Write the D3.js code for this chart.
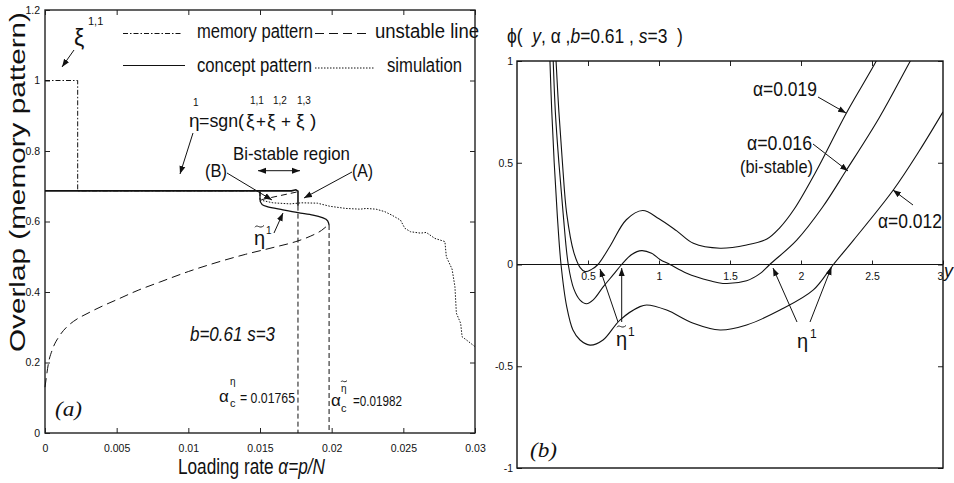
<!DOCTYPE html>
<html><head><meta charset="utf-8">
<script src="https://cdn.jsdelivr.net/npm/d3@7"></script>
<style>
body{margin:0;background:#fff}
svg{display:block}
text{font-family:"Liberation Sans Narrow","Arial Narrow","Liberation Sans",Arial,sans-serif;fill:#111;white-space:pre}
.serif{font-family:"Liberation Serif","Times New Roman",serif}
</style></head><body>
<svg id="chart" width="954" height="483"></svg>
<script>
// ---------- data: panel (a) ----------
const leftXTicks = [0, 0.005, 0.01, 0.015, 0.02, 0.025, 0.03];
const leftXTickLabels = ["0", "0.005", "0.01", "0.015", "0.02", "0.025", "0.03"];
const leftYTicks = [0, 0.2, 0.4, 0.6, 0.8, 1, 1.2];
const leftYTickLabels = ["0", "0.2", "0.4", "0.6", "0.8", "1", "1.2"];

const memoryPattern = [[0, 1.0], [0.00228, 1.0], [0.00228, 0.687], [0.0150, 0.687], [0.0150, 0.656]];
const conceptUpper = [[0, 0.687], [0.0172, 0.687], [0.0175, 0.690], [0.01765, 0.686], [0.01765, 0.645]];
const conceptLower = [[0.0150, 0.684], [0.0150, 0.662], [0.01515, 0.648], [0.0155, 0.642], [0.0166, 0.633],
  [0.01765, 0.625], [0.0187, 0.618], [0.0194, 0.610], [0.01972, 0.602], [0.01982, 0.590]];
const unstableUpper = [[0.0151, 0.662], [0.0176, 0.684]];
const unstableLower = [[0, 0.13], [0.0001, 0.16], [0.00025, 0.20], [0.0005, 0.235], [0.001, 0.275], [0.0015, 0.30],
  [0.002, 0.317], [0.003, 0.34], [0.004, 0.36], [0.005, 0.378], [0.0065, 0.405], [0.008, 0.428], [0.01, 0.458],
  [0.012, 0.484], [0.014, 0.507], [0.016, 0.527], [0.0175, 0.543], [0.0185, 0.558], [0.0193, 0.575], [0.0198, 0.592]];
const criticalEta = [[0.01765, 0.645], [0.01765, 0]];
const criticalEtaTilde = [[0.01982, 0.590], [0.01982, 0]];
const simulation = [[0.0150, 0.661], [0.0159, 0.653], [0.0171, 0.650], [0.0179, 0.653], [0.0190, 0.652], [0.0199, 0.643],
  [0.0210, 0.637], [0.0220, 0.635], [0.0224, 0.637], [0.0231, 0.635], [0.0237, 0.628], [0.0242, 0.618], [0.0248, 0.604],
  [0.0251, 0.581], [0.0255, 0.571], [0.0262, 0.567], [0.0266, 0.569], [0.0272, 0.552], [0.0279, 0.543], [0.0280, 0.500],
  [0.0284, 0.465], [0.0286, 0.415], [0.0287, 0.340], [0.0290, 0.311], [0.0291, 0.273], [0.0294, 0.264], [0.0300, 0.245]];

// ---------- data: panel (b) ----------
const rightXTicks = [0.5, 1, 1.5, 2, 2.5, 3];
const rightXTickLabels = ["0.5", "1", "1.5", "2", "2.5", "3"];
const rightYTicks = [-1, -0.5, 0, 0.5, 1];
const rightYTickLabels = ["-1", "-0.5", "0", "0.5", "1"];

const phiAlpha019 = [[0.262, 1.2], [0.275, 1.0], [0.295, 0.75], [0.32, 0.5], [0.35, 0.25], [0.40, 0.06], [0.445, -0.015],
  [0.48, -0.035], [0.525, -0.024], [0.57, 0.0], [0.655, 0.09], [0.77, 0.22], [0.885, 0.265], [1.0, 0.225], [1.125, 0.165],
  [1.242, 0.104], [1.43, 0.08], [1.617, 0.096], [1.76, 0.125], [1.85, 0.18], [1.95, 0.27], [2.1, 0.45], [2.32, 0.745],
  [2.53, 1.0], [2.6, 1.1]];
const phiAlpha016 = [[0.245, 1.2], [0.255, 1.0], [0.27, 0.75], [0.295, 0.5], [0.325, 0.25], [0.361, 0.0], [0.40, -0.12],
  [0.444, -0.175], [0.49, -0.193], [0.537, -0.174], [0.608, -0.109], [0.678, -0.05], [0.737, 0.0], [0.808, 0.049],
  [0.878, 0.068], [0.948, 0.055], [1.007, 0.025], [1.077, 0.0], [1.195, -0.043], [1.359, -0.08], [1.45, -0.093],
  [1.617, -0.08], [1.711, -0.045], [1.78, 0.0], [1.97, 0.12], [2.15, 0.28], [2.32, 0.464], [2.55, 0.72], [2.77, 1.0], [2.85, 1.1]];
const phiAlpha012 = [[0.224, 1.2], [0.232, 1.0], [0.245, 0.75], [0.262, 0.5], [0.283, 0.25], [0.31, 0.0], [0.35, -0.207],
  [0.394, -0.322], [0.444, -0.371], [0.514, -0.396], [0.606, -0.371], [0.725, -0.273], [0.866, -0.207], [0.913, -0.199],
  [1.054, -0.224], [1.242, -0.289], [1.43, -0.322], [1.617, -0.297], [1.852, -0.224], [2.087, -0.125], [2.228, 0.0],
  [2.37, 0.12], [2.65, 0.366], [2.83, 0.555], [3.0, 0.75]];

// ---------- drawing ----------
const svg = d3.select("#chart");
const defs = svg.append("defs");
defs.append("marker").attr("id", "ah").attr("markerUnits", "userSpaceOnUse")
  .attr("markerWidth", 9).attr("markerHeight", 7).attr("refX", 8).attr("refY", 3.5)
  .attr("orient", "auto-start-reverse")
  .append("path").attr("d", "M0,0.5 L8,3.5 L0,6.5 Z").attr("fill", "#111");

function arrow(x1, y1, x2, y2, both) {
  const l = svg.append("line").attr("x1", x1).attr("y1", y1).attr("x2", x2).attr("y2", y2)
    .attr("stroke", "#111").attr("stroke-width", 1).attr("marker-end", "url(#ah)");
  if (both) l.attr("marker-start", "url(#ah)");
}
function txt(x, y, s, size, opts = {}) {
  const t = svg.append("text").attr("x", x).attr("y", y).attr("font-size", size).text(s);
  if (opts.w) t.attr("textLength", opts.w).attr("lengthAdjust", "spacingAndGlyphs");
  if (opts.italic) t.attr("font-style", "italic");
  if (opts.cls) t.attr("class", opts.cls);
  if (opts.anchor) t.attr("text-anchor", opts.anchor);
  return t;
}
// multi-style text condensed horizontally to a target width (narrow face look)
function condensed(x, y, size, width, parts, rotate) {
  const g = svg.append("g");
  const t = g.append("text").attr("x", 0).attr("y", 0).attr("font-size", size);
  parts.forEach(p => {
    const s = t.append("tspan").text(p[0]);
    if (p[1]) s.attr("font-style", "italic");
  });
  const len = t.node().getComputedTextLength();
  const k = width / len;
  g.attr("transform", `translate(${x},${y})` + (rotate ? ` rotate(${rotate})` : "") + ` scale(${k},1)`);
}
// small tilde mark drawn as a path (over eta)
function tilde(x, y, w) {
  const h = w * 0.28;
  svg.append("path")
    .attr("d", `M${x},${y + h * 0.5} C${x + w * 0.25},${y - h} ${x + w * 0.5},${y + h * 1.5} ${x + w},${y - h * 0.2}`)
    .attr("fill", "none").attr("stroke", "#111").attr("stroke-width", 0.9);
}

// ===== Panel (a) =====
const xL = d3.scaleLinear().domain([0, 0.03]).range([45, 475]);
const yL = d3.scaleLinear().domain([0, 1.2]).range([433, 10]);

function styleAxis(g, fs) {
  g.select(".domain").remove();
  g.selectAll(".tick line").attr("stroke", "#222");
  g.selectAll(".tick text").attr("font-size", fs).attr("fill", "#111")
    .attr("font-family", '"Liberation Sans Narrow","Arial Narrow","Liberation Sans",Arial,sans-serif');
}
svg.append("g").attr("transform", "translate(0,433)")
  .call(d3.axisBottom(xL).tickValues(leftXTicks).tickFormat((d, i) => leftXTickLabels[i]).tickSizeInner(-5).tickSizeOuter(0).tickPadding(12))
  .call(g => styleAxis(g, 10.5));
svg.append("g").attr("transform", "translate(45,0)")
  .call(d3.axisLeft(yL).tickValues(leftYTicks).tickFormat((d, i) => leftYTickLabels[i]).tickSizeInner(-5).tickSizeOuter(0).tickPadding(5))
  .call(g => styleAxis(g, 10.5));
svg.append("g").attr("transform", "translate(0,10)")
  .call(d3.axisTop(xL).tickValues(leftXTicks).tickFormat("").tickSizeInner(-5).tickSizeOuter(0))
  .call(g => styleAxis(g, 10));
svg.append("g").attr("transform", "translate(475,0)")
  .call(d3.axisRight(yL).tickValues(leftYTicks).tickFormat("").tickSizeInner(-5).tickSizeOuter(0))
  .call(g => styleAxis(g, 10));
svg.append("rect").attr("x", xL(0)).attr("y", yL(1.2)).attr("width", xL(0.03) - xL(0)).attr("height", yL(0) - yL(1.2))
  .attr("fill", "none").attr("stroke", "#222").attr("stroke-width", 1.4);

const lineL = d3.line().x(d => xL(d[0])).y(d => yL(d[1]));
const smoothL = d3.line().x(d => xL(d[0])).y(d => yL(d[1])).curve(d3.curveMonotoneX);
const smoothLY = d3.line().x(d => xL(d[0])).y(d => yL(d[1])).curve(d3.curveMonotoneY);
function pathL(data, gen, dash, w) {
  svg.append("path").datum(data).attr("d", gen).attr("fill", "none").attr("stroke", "#111")
    .attr("stroke-width", w).attr("stroke-dasharray", dash);
}
pathL(unstableLower, smoothL, "9,5", 1);
pathL(unstableUpper, lineL, "6,4", 1);
pathL(criticalEta, lineL, "5,3", 1);
pathL(criticalEtaTilde, lineL, "5,3", 1);
pathL(simulation, lineL, "1.5,1.5", 1);
pathL(conceptUpper, lineL, null, 1.6);
pathL(conceptLower, smoothLY, null, 1.3);
pathL(memoryPattern, lineL, "5,2,1.5,2", 1);

// legend
function legLine(x1, x2, y, dash, w) {
  svg.append("line").attr("x1", x1).attr("x2", x2).attr("y1", y).attr("y2", y)
    .attr("stroke", "#111").attr("stroke-width", w).attr("stroke-dasharray", dash);
}
legLine(123, 182, 33.5, "5,2,1.5,2", 1);
txt(197, 38, "memory pattern", 19.5, { w: 116 });
legLine(315, 370, 33.5, "9,5", 1);
txt(375, 38, "unstable line", 19.5, { w: 104 });
legLine(123, 185, 65.5, null, 1.2);
txt(197, 72, "concept pattern", 19.5, { w: 115 });
legLine(315, 375, 68, "1.5,1.5", 1);
txt(387, 72, "simulation", 19.5, { w: 75 });

// xi^{1,1}
txt(74, 46, "ξ", 23);
txt(88, 25, "1,1", 11);
arrow(74, 50, 62, 67);

// eta formula
txt(189, 127, "η", 19);
txt(193, 106, "1", 10);
txt(199, 127, "=sgn(", 19, { w: 45 });
txt(246, 127, "ξ", 19);
txt(256, 127, "+", 17);
txt(267, 127, "ξ", 19);
txt(281, 127, "+", 17);
txt(296, 127, "ξ", 19);
txt(310, 127, ")", 19);
txt(250, 104, "1,1", 10);
txt(273, 104, "1,2", 10);
txt(297, 104, "1,3", 10);
arrow(193, 133, 180, 174);

// bi-stable annotations
txt(233, 160, "Bi-stable region", 19, { w: 117 });
arrow(258, 170.7, 300, 170.7, true);
txt(352, 177, "(A)", 19, { w: 21 });
txt(205, 177, "(B)", 19, { w: 22 });
arrow(227, 173, 272, 200);
arrow(352, 172, 304, 198);

// eta tilde
txt(254, 245, "η", 20);
tilde(255, 226, 9);
txt(266, 234, "1", 10);
arrow(274, 233, 283, 213);

txt(190, 341, "b=0.61 s=3", 20, { italic: true, w: 85 });

// alpha_c labels
txt(219, 402, "α", 17);
txt(230, 385, "η", 10);
txt(230, 407, "c", 11);
txt(240, 403, "= 0.01765", 14, { w: 55 });
txt(331, 406, "α", 17);
txt(341, 392, "η", 10);
tilde(341, 381, 6);
txt(341, 412, "c", 11);
txt(353, 406, "=0.01982", 14, { w: 49 });

txt(55, 416, "(a)", 22, { italic: true, cls: "serif", w: 27 });

// axis titles
condensed(178, 474, 22, 147, [["Loading rate "], ["α=p/N", true]]);
svg.append("text").attr("transform", "translate(25,352) rotate(-90)").attr("font-size", 22)
  .attr("textLength", 340).attr("lengthAdjust", "spacingAndGlyphs").text("Overlap (memory pattern)");

// ===== Panel (b) =====
const xR = d3.scaleLinear().domain([0, 3]).range([517, 943]);
const yR = d3.scaleLinear().domain([-1, 1]).range([468, 61]);

svg.append("g").attr("transform", "translate(517,0)")
  .call(d3.axisLeft(yR).tickValues(rightYTicks).tickFormat((d, i) => rightYTickLabels[i]).tickSizeInner(-5).tickSizeOuter(0).tickPadding(4))
  .call(g => styleAxis(g, 10.5));
svg.append("g").attr("transform", "translate(943,0)")
  .call(d3.axisRight(yR).tickValues(rightYTicks).tickFormat("").tickSizeInner(-5).tickSizeOuter(0))
  .call(g => styleAxis(g, 10));
svg.append("g").attr("transform", "translate(0,61)")
  .call(d3.axisTop(xR).tickValues(rightXTicks.slice(0, 5)).tickFormat("").tickSizeInner(-5).tickSizeOuter(0))
  .call(g => styleAxis(g, 10));
svg.append("g").attr("transform", `translate(0,${yR(0)})`)
  .call(d3.axisBottom(xR).tickValues(rightXTicks).tickFormat((d, i) => rightXTickLabels[i]).tickSizeInner(-4).tickSizeOuter(0).tickPadding(8.5))
  .call(g => styleAxis(g, 10.5))
  .call(g => g.selectAll(".tick").filter(d => d === 3).select("text").attr("dx", "-3"));
svg.append("line").attr("x1", xR(0)).attr("x2", xR(3)).attr("y1", yR(0)).attr("y2", yR(0))
  .attr("stroke", "#111").attr("stroke-width", 1.2);
svg.append("rect").attr("x", xR(0)).attr("y", yR(1)).attr("width", xR(3) - xR(0)).attr("height", yR(-1) - yR(1))
  .attr("fill", "none").attr("stroke", "#111").attr("stroke-width", 1.4);

defs.append("clipPath").attr("id", "clipR").append("rect")
  .attr("x", xR(0)).attr("y", yR(1)).attr("width", xR(3) - xR(0)).attr("height", yR(-1) - yR(1));
const lineR = d3.line().x(d => xR(d[0])).y(d => yR(d[1])).curve(d3.curveCatmullRom.alpha(0.5));
const gR = svg.append("g").attr("clip-path", "url(#clipR)");
[phiAlpha019, phiAlpha016, phiAlpha012].forEach(s => {
  gR.append("path").datum(s).attr("d", lineR).attr("fill", "none").attr("stroke", "#111").attr("stroke-width", 1.1);
});

// title
condensed(507, 43, 20, 176, [["ϕ(  "], ["y", true], [", α ,"], ["b", true], ["=0.61 , "], ["s", true], ["=3  )"]]);

// curve labels
txt(753, 96, "α=0.019", 20, { w: 64 });
arrow(818, 97, 846, 113);
txt(747, 150, "α=0.016", 20, { w: 65 });
txt(740, 173, "(bi-stable)", 19, { w: 73 });
arrow(813, 144, 848, 171);
txt(878, 228, "α=0.012", 20, { w: 64 });
arrow(913, 205, 893, 190);

// eta labels
txt(616, 346, "η", 20);
tilde(617, 326, 9);
txt(628, 336, "1", 12);
arrow(618, 322, 600, 269);
arrow(621.7, 322, 621.7, 268);
txt(797, 348, "η", 20);
txt(810, 338, "1", 12);
arrow(797, 322, 773, 268);
arrow(810, 322, 831.5, 267);

txt(530, 457, "(b)", 22, { italic: true, cls: "serif", w: 27 });
txt(944, 277, "y", 18, { italic: true });
</script>
</body></html>
